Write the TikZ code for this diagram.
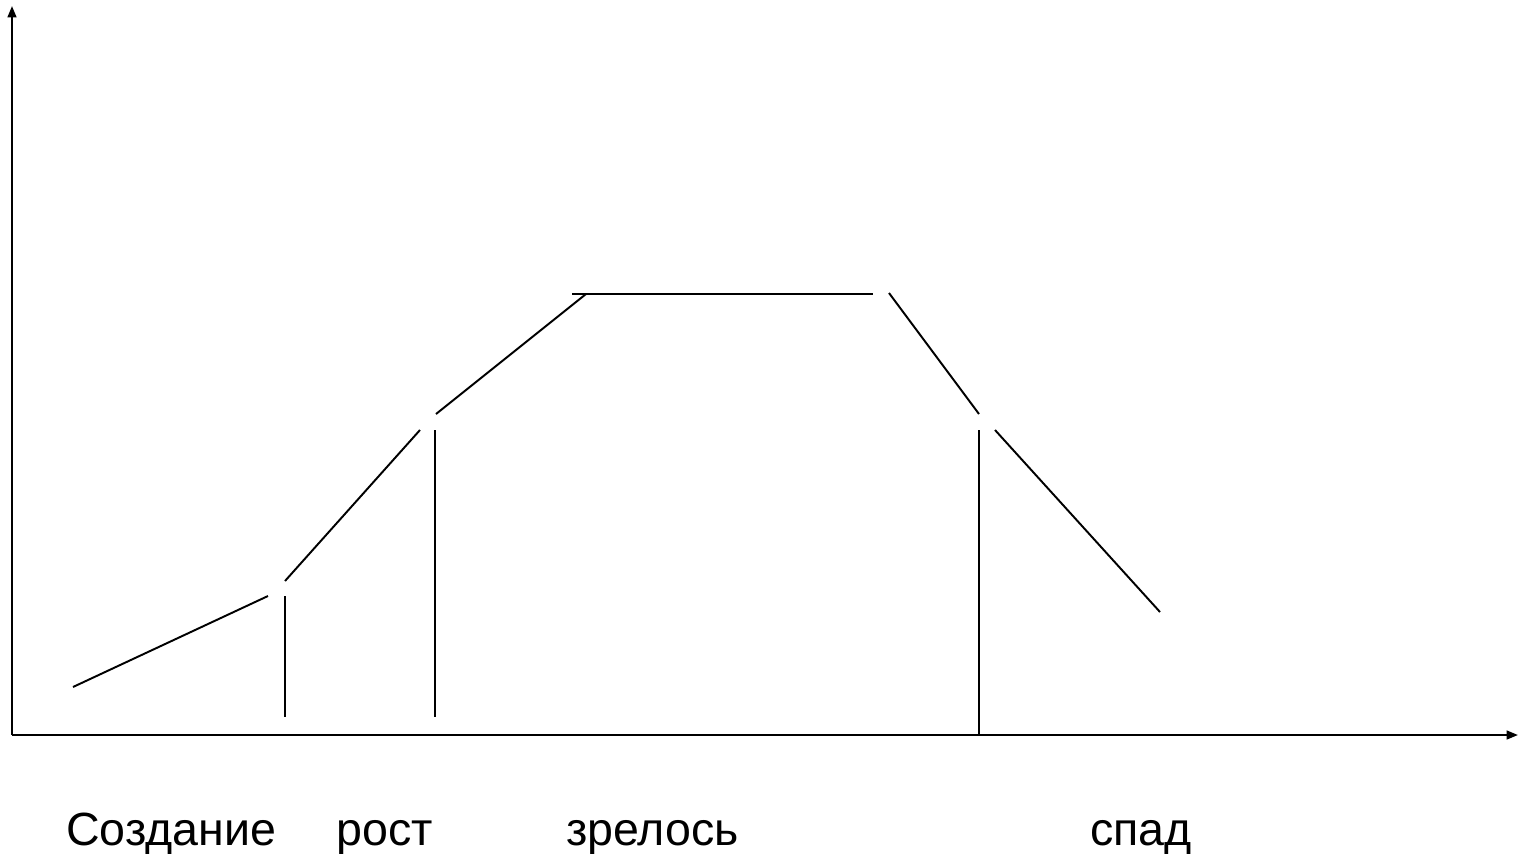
\documentclass[tikz,border=0pt]{standalone}
\usepackage{fontspec}
\setmainfont{Liberation Sans}
\usepackage{tikz}
\usetikzlibrary{arrows.meta}

\begin{document}
\begin{tikzpicture}[x=0.02cm,y=-0.02cm]
		% стили линий и подписей
		\tikzstyle{axis} = [line width=1.2pt,-{Triangle[length=6.5pt,width=5pt]}]	% оси
		\tikzstyle{curve} = [line width=1.1pt]	% участки кривой
		\tikzstyle{stage} = [anchor=base west, inner sep=0pt, font=\fontsize{26.5}{32}\selectfont]	% подписи стадий
		\useasboundingbox (0,0) rectangle (1518,853);

		% точки
		\coordinate (O) at (12,735);
		\coordinate (ytop) at (12,6);
		\coordinate (xend) at (1518,735);
		\coordinate (a1) at (73,687);   \coordinate (a2) at (268,596);
		\coordinate (b1) at (285,581);  \coordinate (b2) at (420,430);
		\coordinate (c1) at (436,414);  \coordinate (c2) at (586,294);
		\coordinate (d1) at (572,294);  \coordinate (d2) at (873,294);
		\coordinate (e1) at (889,293);  \coordinate (e2) at (979,414);
		\coordinate (f1) at (995,430);  \coordinate (f2) at (1160,612);
		\coordinate (v1t) at (285,596); \coordinate (v1b) at (285,717);
		\coordinate (v2t) at (435,430); \coordinate (v2b) at (435,717);
		\coordinate (v3t) at (979,430); \coordinate (v3b) at (979,735);

		% подписи
		\node (create) [stage] at (66,845) {Создание};
		\node (grow) [stage] at (336,845) {рост};
		\node (mature) [stage] at (566,845) {зрелось};
		\node (fall) [stage] at (1090,845) {спад};

		% оси
		\draw [axis](O) -- (ytop);
		\draw [axis](O) -- (xend);

		% кривая и границы стадий
		\draw [curve](a1) -- (a2);
		\draw [curve](b1) -- (b2);
		\draw [curve](c1) -- (c2);
		\draw [curve](d1) -- (d2);
		\draw [curve](e1) -- (e2);
		\draw [curve](f1) -- (f2);
		\draw [curve](v1t) -- (v1b);
		\draw [curve](v2t) -- (v2b);
		\draw [curve](v3t) -- (v3b);
	\end{tikzpicture}
\end{document}
